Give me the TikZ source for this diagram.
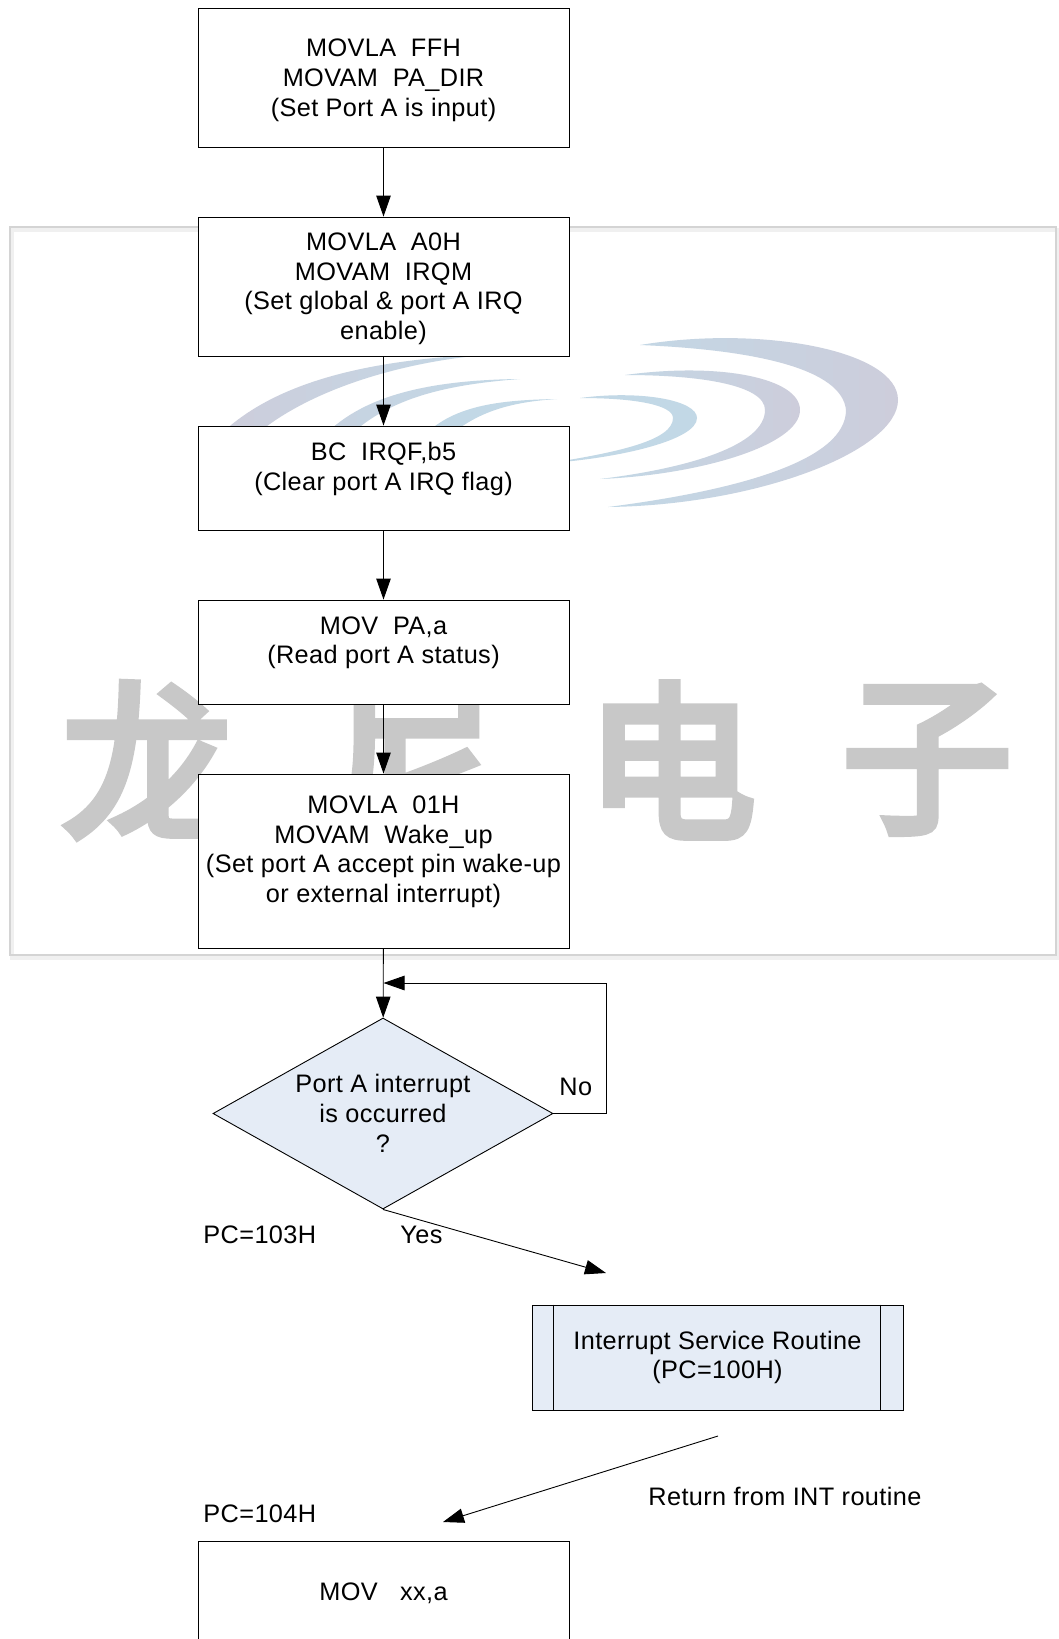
\documentclass[tikz,border=0pt]{standalone}
\usepackage{fontspec}
\setmainfont[LetterSpace=1.5]{Liberation Sans}
\newfontfamily\cjk[FakeBold=5]{Noto Sans CJK SC}
\usetikzlibrary{arrows.meta,shapes.geometric}
\definecolor{wmgray}{HTML}{CDCDDB}
\definecolor{wmblue}{HTML}{C2D8E6}
\definecolor{wmchar}{HTML}{C8C8C8}
\definecolor{flowfill}{HTML}{E5ECF6}
\tikzset{
  >={Triangle[length=21pt,width=14.5pt]},
  box/.style={draw,fill=white,line width=0.9pt,minimum width=371pt,inner sep=0pt,align=center},
  decide/.style={diamond,draw,fill=flowfill,line width=0.9pt,minimum width=340pt,minimum height=191pt,aspect=1.78,inner sep=0pt,align=center},
  lbl/.style={inner sep=0pt,anchor=west},
  wmtext/.style={text=wmchar,font=\cjk\fontsize{170}{170}\selectfont,inner sep=0pt},
  swoosh/.style={left color=wmblue,right color=wmgray,draw=none}
}
\begin{document}
\begin{tikzpicture}[x=1pt,y=-1pt,line width=0.9pt,font=\fontsize{25.3}{29.7}\selectfont]
\useasboundingbox (0,0) rectangle (1059,1639);
\fill[white] (0,0) rectangle (1059,1639);
\draw[line width=4pt,color=black!6] (12,230) rectangle (1058,958);
\draw[line width=2.6pt,color=black!17] (10,227) rectangle (1056,955);
\foreach \x/\c in {147/龙,414/尼,671/电,927/子} \node[wmtext] (wm\x) at (\x,760) {\c};
\shade[swoosh] (640,345) .. controls (760,325) and (898,350) .. (898,400) .. controls (898,450) and (760,505) .. (608,507) .. controls (740,490) and (846,460) .. (846,410) .. controls (842,370) and (760,350) .. (640,345);
\shade[swoosh] (625,375) .. controls (720,362) and (800,378) .. (800,410) .. controls (800,445) and (700,475) .. (600,479) .. controls (690,468) and (765,445) .. (765,410) .. controls (765,385) and (700,375) .. (625,375);
\fill[wmblue] (580,398) .. controls (640,390) and (697,400) .. (697,418) .. controls (697,440) and (620,458) .. (550,463) .. controls (620,452) and (673,440) .. (673,418) .. controls (673,405) and (635,398) .. (580,398);
\shade[left color=wmgray,right color=wmblue] (215,440) .. controls (270,382) and (370,358) .. (500,354) .. controls (420,358) and (310,385) .. (250,440);
\shade[left color=wmgray!50!wmblue,right color=wmblue] (320,440) .. controls (360,395) and (430,380) .. (520,379) .. controls (440,385) and (385,400) .. (345,440);
\fill[wmblue] (420,440) .. controls (450,405) and (500,400) .. (557,399) .. controls (510,402) and (475,412) .. (445,440);
\node[box,minimum height=139pt] (setdir) at (383.5,78) {\rule{0pt}{22.5pt}MOVLA~~FFH\\MOVAM~~PA\_DIR\\(Set Port A is input)};
\node[box,minimum height=139pt] (setirq) at (383.5,286.5) {\rule{0pt}{22.5pt}MOVLA~~A0H\\MOVAM~~IRQM\\(Set global \& port A IRQ\\enable)};
\node[box,minimum height=104pt] (clrflag) at (383.5,478) {BC~~IRQF,b5\\(Clear port A IRQ flag)\\[-6pt]~};
\node[box,minimum height=104pt] (readpa) at (383.5,652) {MOV~~PA,a\\(Read port A status)\\[-6pt]~};
\node[box,minimum height=174pt] (wake) at (383.5,861) {MOVLA~~01H\\MOVAM~~Wake\_up\\(Set port A accept pin wake-up\\or external interrupt)\\[-6pt]~};
\node[decide] (occur) at (383,1113.5) {Port A interrupt\\is occurred\\?};
\node[box,fill=flowfill,minimum height=105pt] (isr) at (717.5,1357.5) {Interrupt Service Routine\\(PC=100H)};
\node[box,minimum height=104pt] (movxx) at (383.5,1593) {MOV~~~xx,a};
\draw ([xshift=22pt]isr.north west) -- ([xshift=22pt]isr.south west);
\draw ([xshift=-23pt]isr.north east) -- ([xshift=-23pt]isr.south east);
\node[lbl] (nolbl) at (559,1087) {No};
\node[lbl] (pc103) at (203,1235) {PC=103H};
\node[lbl] (yeslbl) at (400,1235) {Yes};
\node[lbl] (retlbl) at (648,1496) {Return from INT routine};
\node[lbl] (pc104) at (203,1514) {PC=104H};
\coordinate (loopr) at (606,983);
\coordinate (loopin) at (383.5,983);
\coordinate (yesend) at (606,1273);
\coordinate (retstart) at (718,1436);
\coordinate (retend) at (443,1522);
\draw[->] (setdir) -- (setirq);
\draw[->] (setirq) -- (clrflag);
\draw[->] (clrflag) -- (readpa);
\draw[->] (readpa) -- (wake);
\draw[->] (wake) -- (occur);
\draw[->] (occur.east) -| (loopr) -- (loopin);
\draw[->] (occur.south) -- (yesend);
\draw[->] (retstart) -- (retend);
\end{tikzpicture}
\end{document}
